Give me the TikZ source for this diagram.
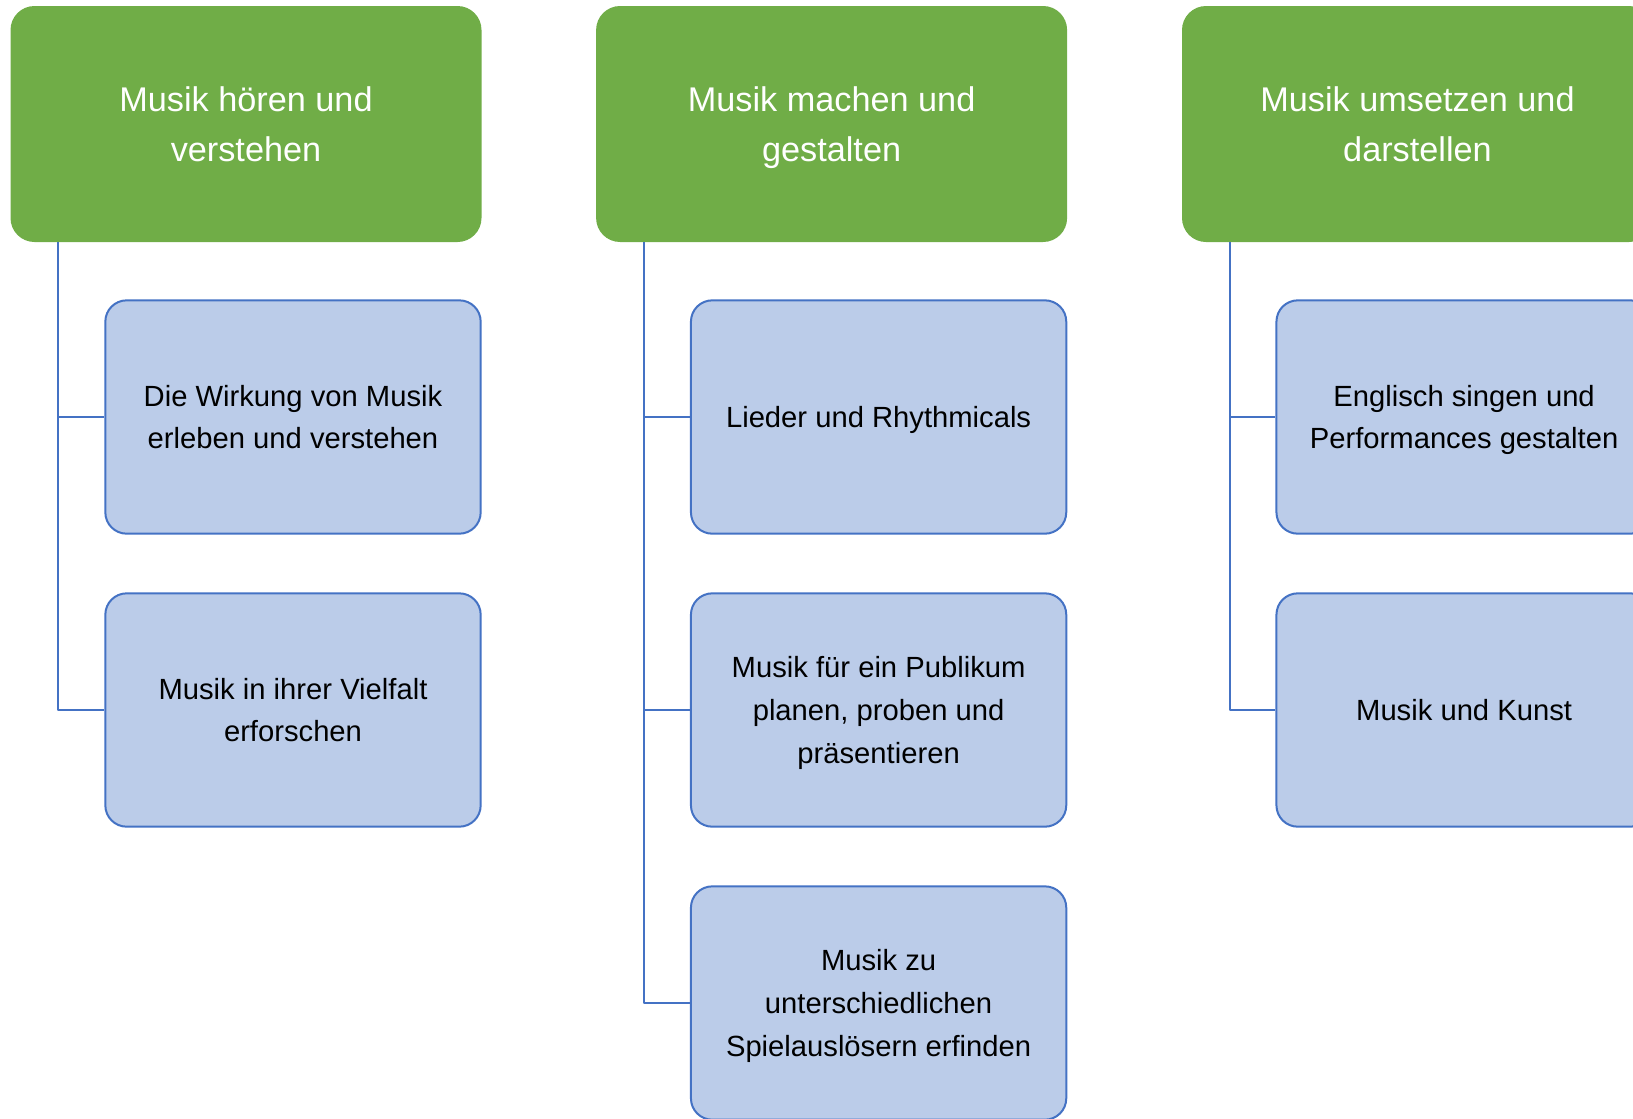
\documentclass[tikz,border=0pt]{standalone}
\usepackage{fontspec}
\setmainfont{Liberation Sans}
\definecolor{gruen}{RGB}{112,173,71}
\definecolor{hellblau}{RGB}{187,204,233}
\definecolor{rahmen}{RGB}{68,114,196}
\begin{document}
\begin{tikzpicture}[x=0.75pt,y=-0.75pt, line join=round,
	bereich/.style={rectangle, rounded corners=18pt, fill=gruen, text=white, minimum width=353.25pt, minimum height=177pt, inner sep=0pt, text depth=0pt, align=center, font=\fontsize{25.7}{37.5}\selectfont},
	thema/.style={rectangle, rounded corners=16pt, draw=rahmen, line width=1.5pt, fill=hellblau, minimum width=281.5pt, minimum height=175pt, inner sep=0pt, text depth=0pt, align=center, font=\fontsize{21.9}{32}\selectfont},
	verb/.style={draw=rahmen, line width=1.5pt}]
	\useasboundingbox (0,0) rectangle (1633,1118);
	% Bereiche
	\node[bereich] (b1) at (246,124) {Musik hören und\\verstehen};
	\node[bereich] (b2) at (831.6,124) {Musik machen und\\gestalten};
	\node[bereich] (b3) at (1417.5,124) {Musik umsetzen und\\darstellen};
	% Themen
	\node[thema] (t11) at (293,417) {Die Wirkung von Musik\\erleben und verstehen};
	\node[thema] (t12) at (293,710) {Musik in ihrer Vielfalt\\erforschen};
	\node[thema] (t21) at (878.6,417) {Lieder und Rhythmicals};
	\node[thema] (t22) at (878.6,710) {Musik für ein Publikum\\planen, proben und\\präsentieren};
	\node[thema] (t23) at (878.6,1003) {Musik zu\\unterschiedlichen\\Spielauslösern erfinden};
	\node[thema] (t31) at (1464.1,417) {Englisch singen und\\Performances gestalten};
	\node[thema] (t32) at (1464.1,710) {Musik und Kunst};
	% Verbindungen
	\draw[verb] ([xshift=35.85pt]b1.south west) |- (t11.west);
	\draw[verb] ([xshift=35.85pt]b1.south west) |- (t12.west);
	\draw[verb] ([xshift=35.85pt]b2.south west) |- (t21.west);
	\draw[verb] ([xshift=35.85pt]b2.south west) |- (t22.west);
	\draw[verb] ([xshift=35.85pt]b2.south west) |- (t23.west);
	\draw[verb] ([xshift=35.85pt]b3.south west) |- (t31.west);
	\draw[verb] ([xshift=35.85pt]b3.south west) |- (t32.west);
\end{tikzpicture}
\end{document}
